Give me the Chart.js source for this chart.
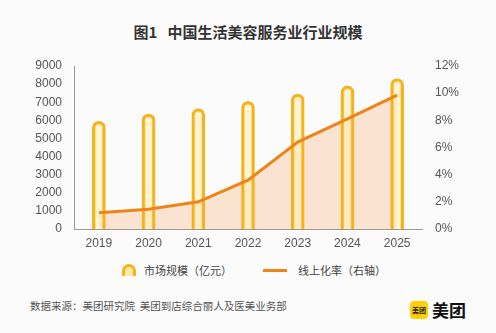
<!DOCTYPE html>
<html>
<head>
<meta charset="utf-8">
<script src="https://cdn.jsdelivr.net/npm/chart.js@4"></script>
<style>
  body { margin: 0; background: #fbfbfb; font-family: "Noto Sans CJK SC", "Liberation Sans", sans-serif; }
  #wrap { position: relative; width: 496px; height: 333px; overflow: hidden; }
  #title { position: absolute; top: 21px; left: 0; width: 496px; text-align: center; font-size: 15px; font-weight: bold; color: #333; }
  #box { position: absolute; left: 0; top: 0; width: 496px; height: 260px; }
  .legend { position: absolute; top: 262px; font-size: 11px; color: #444; display: flex; align-items: center; }
  .arch { width: 8px; height: 9px; border: 3px solid #f6b21c; border-bottom: none; border-radius: 7px 7px 0 0; background: #fde9a6; margin-right: 8px; }
  .dash { width: 24px; height: 3px; background: #ee8418; margin-right: 11px; }
  #src { position: absolute; left: 30px; top: 298px; font-size: 10.5px; color: #555; }
  #logo { position: absolute; left: 410px; top: 297px; display: flex; align-items: center; }
  #logo .sq { width: 18px; height: 18px; border-radius: 4px; background: #ffd100; font-size: 7px; font-weight: bold; color: #222; display: flex; align-items: center; justify-content: center; margin-right: 4px; }
  #logo .tx { font-size: 17px; font-weight: bold; color: #111; }
</style>
</head>
<body>
<div id="wrap">
  <div id="title">图1&nbsp;&nbsp;&nbsp;中国生活美容服务业行业规模</div>
  <div id="box"><canvas id="c"></canvas></div>
  <div class="legend" style="left:122px"><div class="arch"></div>市场规模（亿元）</div>
  <div class="legend" style="left:263px"><div class="dash"></div>线上化率（右轴）</div>
  <div id="src">数据来源：美团研究院&nbsp;&nbsp;美团到店综合丽人及医美业务部</div>
  <div id="logo"><div class="sq">美团</div><div class="tx">美团</div></div>
</div>
<script>
const years = ["2019", "2020", "2021", "2022", "2023", "2024", "2025"];
const marketSize = [5950, 6350, 6650, 7050, 7450, 7900, 8300];
const onlineRate = [1.2, 1.45, 2.0, 3.6, 6.4, 8.1, 9.85];
const leftTicks = [0, 1000, 2000, 3000, 4000, 5000, 6000, 7000, 8000, 9000];
const rightTicks = [0, 2, 4, 6, 8, 10, 12];

const tickFont = { family: "'Liberation Sans', Arial, sans-serif", size: 12 };

new Chart(document.getElementById("c"), {
  data: {
    labels: years,
    datasets: [
      {
        type: "line",
        label: "线上化率（右轴）",
        data: onlineRate,
        yAxisID: "y2",
        borderColor: "#ee8418",
        borderWidth: 3,
        backgroundColor: "rgba(248, 196, 150, 0.42)",
        fill: "origin",
        pointRadius: 0,
        tension: 0,
        order: 0
      },
      {
        type: "bar",
        label: "市场规模（亿元）",
        data: marketSize,
        yAxisID: "y",
        backgroundColor: "rgba(255, 240, 185, 0.6)",
        borderColor: "#f6b21c",
        borderWidth: 3,
        borderRadius: { topLeft: 7, topRight: 7, bottomLeft: 0, bottomRight: 0 },
        borderSkipped: "bottom",
        barThickness: 13,
        order: 1
      }
    ]
  },
  options: {
    responsive: true,
    maintainAspectRatio: false,
    animation: false,
    layout: { padding: { top: 66, bottom: 0, left: 0, right: 0 } },
    plugins: {
      legend: { display: false },
      tooltip: { enabled: false },
      filler: { drawTime: "beforeDatasetsDraw" }
    },
    scales: {
      x: {
        grid: { display: false, drawTicks: false },
        border: { display: true, color: "#999", width: 1 },
        ticks: { color: "#555", font: tickFont, padding: 7 },
        afterFit: s => { s.height = 31; }
      },
      y: {
        position: "left",
        min: 0,
        max: 9000,
        grid: { display: false, drawTicks: false },
        border: { display: true, color: "#999", width: 1 },
        afterBuildTicks: s => { s.ticks = leftTicks.map(v => ({ value: v })); },
        ticks: { color: "#555", font: tickFont, padding: 12, callback: v => String(v) },
        afterFit: s => { s.width = 74; }
      },
      y2: {
        position: "right",
        min: 0,
        max: 12,
        grid: { display: false, drawTicks: false },
        border: { display: false },
        afterBuildTicks: s => { s.ticks = rightTicks.map(v => ({ value: v })); },
        ticks: { color: "#555", font: tickFont, padding: 13, callback: v => v + "%" },
        afterFit: s => { s.width = 74; }
      }
    }
  }
});
</script>
</body>
</html>
